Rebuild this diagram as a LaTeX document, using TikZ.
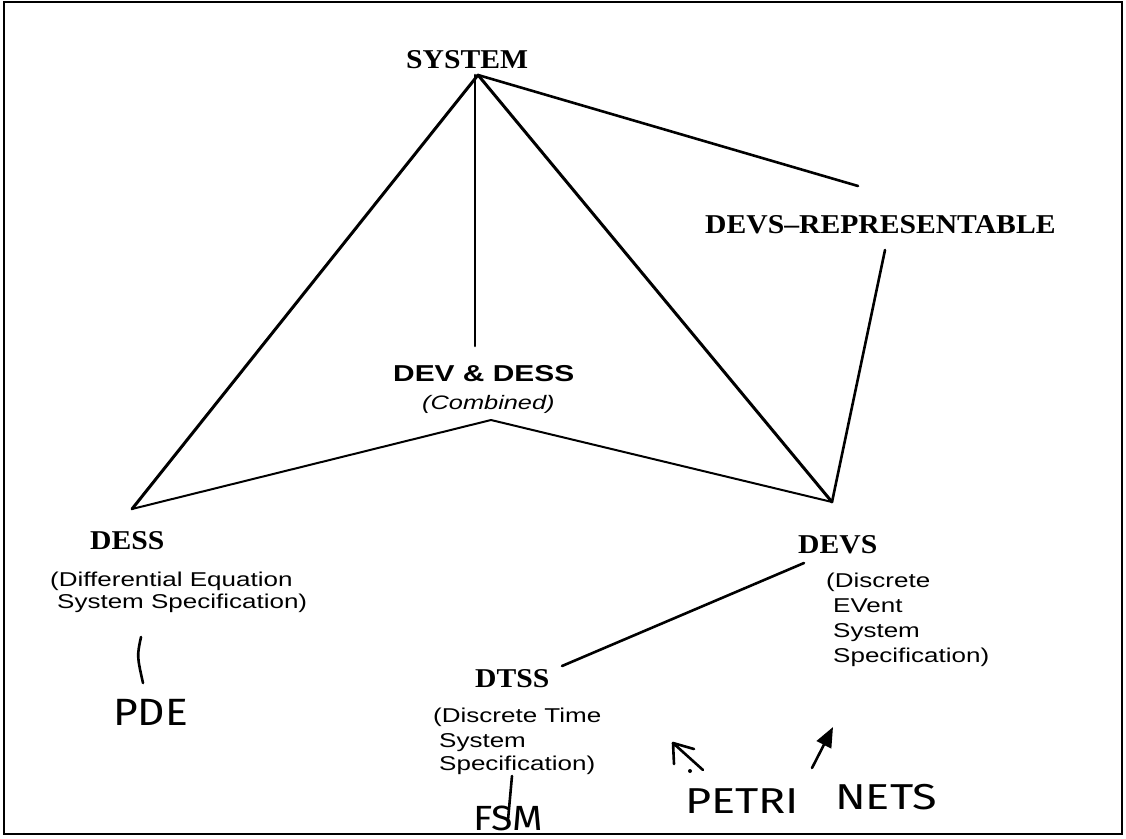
\documentclass[tikz,border=0pt]{standalone}
\usepackage{fontspec}
\usetikzlibrary{arrows.meta}
\newfontfamily\headfont[FakeStretch=1.09]{Liberation Serif}
\newfontfamily\bodyfont[FakeStretch=1.3]{Liberation Sans}
\newfontfamily\handfont[FakeStretch=1.12]{Fira Sans}
\newfontfamily\handwide[FakeStretch=1.25]{Fira Sans}
\begin{document}
\begin{tikzpicture}[x=1pt,y=-1pt,
  head/.style={anchor=base west,inner sep=0pt,font=\headfont\bfseries\fontsize{27.2}{30}\selectfont},
  body/.style={anchor=base west,inner sep=0pt,font=\bodyfont\fontsize{20}{24}\selectfont},
  hand/.style={anchor=base west,inner sep=0pt,font=\handfont\fontsize{38}{40}\selectfont},
  handw/.style={anchor=base west,inner sep=0pt,font=\handwide\fontsize{36}{40}\selectfont},
  link/.style={line width=2.6pt,line cap=round,line join=round},
  thin link/.style={line width=2pt,line cap=round,line join=round},
  pen/.style={line width=2.6pt,line cap=round,line join=round}]
\useasboundingbox (0,0) rectangle (1126,838);
\draw[line width=2pt] (4,2) rectangle (1122,834);

% labels
\node[head] (system) at (406,68) {SYSTEM};
\node[head] (devsrep) at (705,233) {DEVS–REPRESENTABLE};
\node[anchor=base west,inner sep=0pt,font=\bodyfont\bfseries\fontsize{23}{26}\selectfont] (devdess) at (393,381) {DEV \& DESS};
\node[body,font=\bodyfont\itshape\fontsize{19.5}{24}\selectfont] (comb) at (422,409) {(Combined)};

\node[head] (dess) at (90,549) {DESS};
\node[body] (dess1) at (50,586) {(Differential Equation};
\node[body] (dess2) at (57,608) {System Specification)};

\node[head] (devs) at (798,553) {DEVS};
\node[body] (devs1) at (826,587) {(Discrete};
\node[body] (devs2) at (833,612) {EVent};
\node[body] (devs3) at (833,637) {System};
\node[body] (devs4) at (833,662) {Specification)};

\node[head] (dtss) at (475,687) {DTSS};
\node[body] (dtss1) at (433,722) {(Discrete Time};
\node[body] (dtss2) at (439,747) {System};
\node[body] (dtss3) at (439,770) {Specification)};

\node[hand] (pde) at (113,725) {PDE};
\node[hand,font=\handfont\fontsize{35}{40}\selectfont] (fsm) at (473,830) {FSM};
\node[handw] (petri) at (685,813) {PETRI};
\node[handw] (nets) at (835,809) {NETS};

% connector end points
\coordinate (apex) at (478,75);
\coordinate (midtop) at (475,75);
\coordinate (midend) at (475,346);
\coordinate (lcorner) at (132,509);
\coordinate (rcorner) at (832,502);
\coordinate (cpeak) at (491,420);
\coordinate (repin) at (858,186);
\coordinate (repout) at (885,250);
\coordinate (dtssA) at (804,563);
\coordinate (dtssB) at (562,666);
\coordinate (pdeA) at (141,637);
\coordinate (pdeB) at (143,683);
\coordinate (fsmA) at (512,776);
\coordinate (fsmB) at (508,820);

% hierarchy
\draw[link,line width=3pt] (apex) -- (lcorner);
\draw[link,line width=3pt] (apex) -- (rcorner);
\draw[link] (midtop) -- (midend);
\draw[link] (apex) -- (repin);
\draw[link] (repout) -- (rcorner);
\draw[thin link] (lcorner) -- (cpeak) -- (rcorner);
\draw[link] (dtssA) -- (dtssB);

% pen marks
\draw[pen] (pdeA) .. controls (137,656) .. (pdeB);
\draw[pen] (fsmA) -- (fsmB);
\coordinate (arrL1) at (703,770);
\coordinate (arrL2) at (673,743);
\draw[pen] (arrL1) -- (arrL2) -- (674,764);
\draw[pen] (arrL2) -- (694,749);
\fill (690,771) circle (2pt);
\coordinate (arrR1) at (812,768);
\coordinate (arrR2) at (833,727);
\draw[pen,-{Triangle[length=20pt,width=16pt]}] (arrR1) -- (arrR2);
\end{tikzpicture}
\end{document}
